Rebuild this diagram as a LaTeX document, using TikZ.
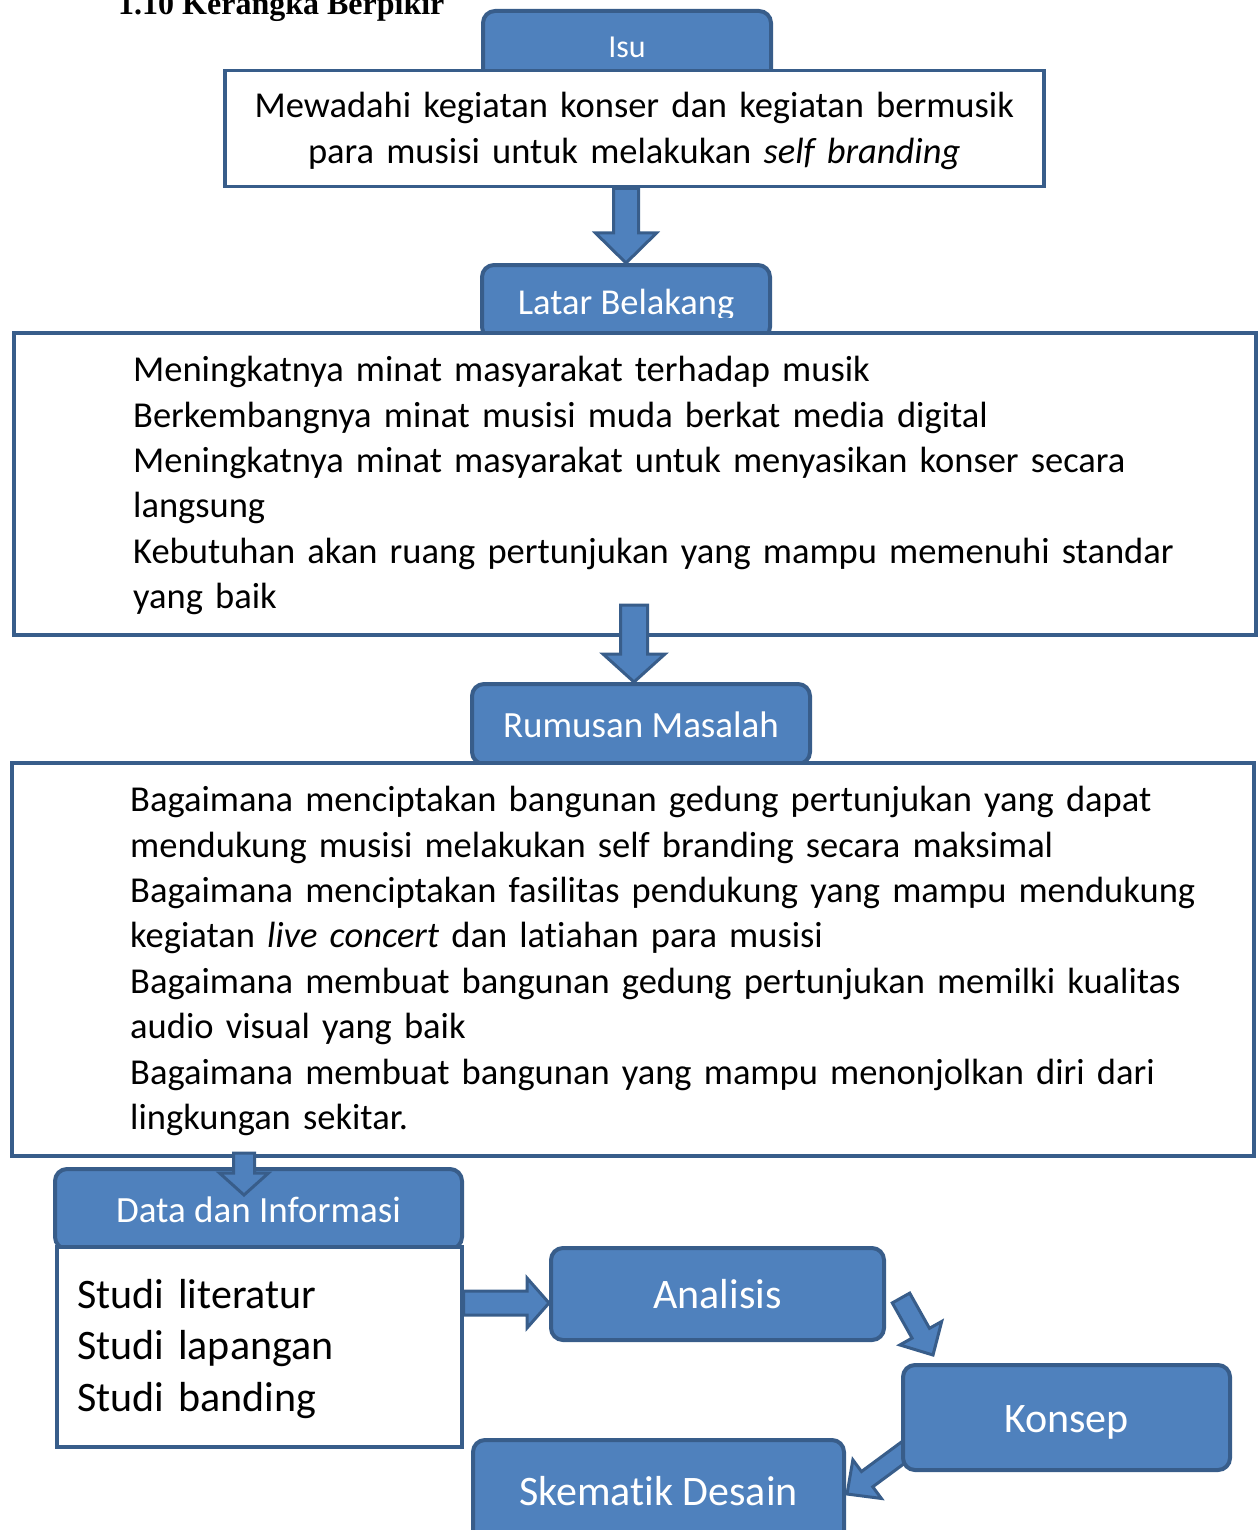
\documentclass[tikz,border=0pt]{standalone}
\usepackage{fontspec}
\setmainfont{Carlito}[Ligatures=NoCommon]
\newfontfamily\titlefont{Liberation Serif}
\usetikzlibrary{calc,backgrounds}

\definecolor{boxblue}{HTML}{4F81BD}
\definecolor{bordblue}{HTML}{385D8A}

\tikzset{
	headbox/.style={draw=bordblue, fill=boxblue, line width=4pt, rounded corners=12pt, text=white, inner sep=0pt, text depth=0pt, anchor=north west},
	txtbox/.style={draw=bordblue, fill=white, line width=3.5pt, inner sep=0pt, anchor=north west},
	body/.style={inner sep=0pt, text width=1100pt, align=left, anchor=base west, font=\fontsize{36.5}{45.4}\selectfont},
	arrowbody/.style={draw=bordblue, fill=boxblue, line width=3pt, line join=miter}
}

% block arrow: from, to, half shaft width, half head width, head length
\newcommand{\blockarrow}[5]{%
	\coordinate (ba-s) at (#1);
	\coordinate (ba-e) at (#2);
	\coordinate (ba-h) at ($(ba-e)!#5!(ba-s)$);
	\draw[arrowbody] ($(ba-s)!#3!90:(ba-e)$) -- ($(ba-h)!#3!-90:(ba-s)$)
	-- ($(ba-h)!#4!-90:(ba-s)$) -- (ba-e) -- ($(ba-h)!#4!90:(ba-s)$)
	-- ($(ba-h)!#3!90:(ba-s)$) -- ($(ba-s)!#3!-90:(ba-e)$) -- cycle;
}

\begin{document}
\begin{tikzpicture}[x=1pt, y=-1pt]
	\useasboundingbox (0,0) rectangle (1259,1530);
	
	\node[anchor=base west, inner sep=0pt, font=\titlefont\bfseries\fontsize{32}{32}\selectfont] (title) at (118,15) {1.10 Kerangka Berpikir};
	
	% Isu
	\node[headbox, minimum width=288pt, minimum height=71pt, text height=22.4pt, font=\fontsize{32}{32}\selectfont] (isu) at (481,9) {Isu};
	\node[txtbox, minimum width=819pt, minimum height=116pt] (isubox) at (223,69) {};
	\node[body, align=center, anchor=base] (isutxt) at ($(isubox.north)+(0,49)$) {Mewadahi kegiatan konser dan kegiatan bermusik\\ para musisi untuk melakukan \textit{self branding}};
	
	% Latar Belakang (its text is cut off at the bottom)
	\node[headbox, minimum width=288pt, minimum height=74pt] (latar) at (480,263) {};
	\begin{scope}
		\clip (latar.north west) rectangle ($(latar.east)+(0,15)$);
		\node[text=white, inner sep=0pt, text height=25.5pt, text depth=0pt, font=\fontsize{36.5}{36.5}\selectfont] (latartitle) at (latar.center) {Latar Belakang};
	\end{scope}
	\blockarrow{latar.north |- isubox.south}{latar.north}{12.5pt}{30.5pt}{30pt}
	\node[txtbox, minimum width=1242pt, minimum height=302pt] (latarbox) at (12,331) {};
	\node[body] (latartxt) at ($(latarbox.north west)+(121,50.7)$) {Meningkatnya minat masyarakat terhadap musik\\
		Berkembangnya minat musisi muda berkat media digital\\
		Meningkatnya minat masyarakat untuk menyasikan konser secara\\
		langsung\\
		Kebutuhan akan ruang pertunjukan yang mampu memenuhi standar\\
		yang baik};
	
	% Rumusan Masalah
	\node[headbox, minimum width=338pt, minimum height=80pt, text height=26pt, font=\fontsize{37}{37}\selectfont] (rumusan) at (470,682) {Rumusan Masalah};
	\blockarrow{$(rumusan.north)+(-7,-77)$}{$(rumusan.north)+(-7,0)$}{13.5pt}{31pt}{28pt}
	\node[txtbox, minimum width=1242pt, minimum height=393pt] (rumusanbox) at (10,761) {};
	\node[body] (rumusantxt) at ($(rumusanbox.north west)+(120,50.7)$) {Bagaimana menciptakan bangunan gedung pertunjukan yang dapat\\
		mendukung musisi melakukan self branding secara maksimal\\
		Bagaimana menciptakan fasilitas pendukung yang mampu mendukung\\
		kegiatan \textit{live concert} dan latiahan para musisi\\
		Bagaimana membuat bangunan gedung pertunjukan memilki kualitas\\
		audio visual yang baik\\
		Bagaimana membuat bangunan yang mampu menonjolkan diri dari\\
		lingkungan sekitar.};
	
	% Data dan Informasi
	\node[headbox, minimum width=407pt, minimum height=80pt, text height=26pt, font=\fontsize{37}{37}\selectfont] (data) at (53,1167) {Data dan Informasi};
	\blockarrow{$(data.north)+(-14.5,-14)$}{$(data.north)+(-14.5,28)$}{10.5pt}{24.5pt}{22pt}
	\node[txtbox, minimum width=405pt, minimum height=200pt] (databox) at (55,1245) {};
	\node[body, font=\fontsize{42}{51.7}\selectfont] (datatxt) at ($(databox.north west)+(22,63)$) {Studi literatur\\
		Studi lapangan\\
		Studi banding};
	
	% Analisis - Konsep - Skematik Desain
	\node[headbox, minimum width=333pt, minimum height=92pt, text height=29.4pt, font=\fontsize{42}{42}\selectfont] (analisis) at (549,1246) {Analisis};
	\node[headbox, minimum width=327pt, minimum height=105pt, text height=29.4pt, font=\fontsize{42}{42}\selectfont] (konsep) at (901,1363) {Konsep};
	\node[headbox, minimum width=371pt, minimum height=102pt, text height=29.4pt, font=\fontsize{42}{42}\selectfont] (skematik) at (471,1438) {Skematik Desain};
	
	\blockarrow{$(databox.east |- analisis.west)+(0,9)$}{$(analisis.west)+(0,9)$}{12pt}{25pt}{22pt}
	\blockarrow{$(analisis.east)+(15,4)$}{$(konsep.north west)+(32,-8)$}{10pt}{24pt}{25pt}
	\begin{scope}[on background layer]
		\blockarrow{$(konsep.south west)+(11,-26)$}{$(skematik.east)+(1,3)$}{9.5pt}{24pt}{25pt}
	\end{scope}
\end{tikzpicture}
\end{document}
